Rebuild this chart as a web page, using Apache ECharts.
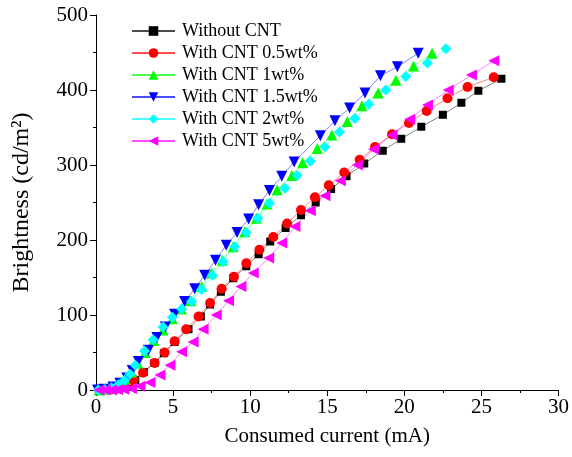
<!DOCTYPE html>
<html>
<head>
<meta charset="utf-8">
<script src="https://cdn.jsdelivr.net/npm/echarts@6/dist/echarts.min.js"></script>
<style>
  html, body { margin: 0; padding: 0; background: #fff; }
  #chart { width: 572px; height: 457px; }
</style>
</head>
<body>
<div id="chart"></div>
<script>
// Brightness vs consumed current for OLEDs with different CNT loadings
const seriesNames = ['Without CNT', 'With CNT 0.5wt%', 'With CNT 1wt%', 'With CNT 1.5wt%', 'With CNT 2wt%', 'With CNT 5wt%'];

const withoutCnt = [[0.2,0],[0.6,0.5],[1.0,1],[1.4,2],[1.75,3],[2.1,5],[2.55,13],[3.1,24],[3.8,36],[4.4,49],[5.1,64],[6.0,81],[6.8,98],[7.4,114],[8.1,131],[8.9,149],[9.75,165],[10.55,181],[11.3,198],[12.3,216],[13.3,233],[14.25,250],[15.25,268],[16.25,285],[17.4,302],[18.6,319],[19.8,335],[21.1,351],[22.5,367],[23.7,383],[24.8,399],[26.3,415]];

const cnt05 = [[0.2,0],[0.6,0.5],[1.0,1],[1.4,2],[1.8,4],[2.1,7],[2.45,14],[3.05,23],[3.8,36],[4.45,50],[5.1,65],[5.85,81],[6.65,98],[7.4,116],[8.15,135],[8.95,151],[9.75,169],[10.6,187],[11.5,204],[12.4,222],[13.3,240],[14.2,257],[15.1,273],[16.1,290],[17.1,307],[18.1,324],[19.2,341],[20.3,356],[21.45,372],[22.8,389],[24.1,404],[25.8,417]];

const cnt1 = [[0.2,0],[0.6,1],[1.05,3],[1.5,8],[1.9,14],[2.3,24],[2.7,36],[3.2,50],[3.75,66],[4.35,80],[4.95,95],[5.55,108],[6.15,119],[6.85,138],[7.5,156],[8.2,173],[8.9,191],[9.65,211],[10.4,229],[11.1,248],[11.75,267],[12.7,286],[13.4,303],[14.35,322],[15.3,340],[16.3,358],[17.25,379],[18.3,396],[19.45,413],[20.6,432],[21.8,449]];

const cnt15 = [[0.1,0],[0.5,1],[1.1,4],[1.55,9],[2.0,16],[2.35,26],[2.75,38],[3.4,53],[3.95,70],[4.5,84],[5.1,101],[5.75,118],[6.4,135],[7.05,153],[7.75,173],[8.45,193],[9.15,210],[9.9,228],[10.55,247],[11.25,266],[12.05,285],[12.85,304],[14.55,339],[15.5,359],[16.45,376],[17.45,396],[18.45,419],[19.55,431],[20.9,449]];

const cnt2 = [[0.15,0],[0.55,1],[1.0,3],[1.45,7],[1.85,13],[2.2,21],[2.55,33],[3.15,52],[3.7,67],[4.35,84],[4.95,97],[5.55,108],[6.2,118],[6.85,134],[7.55,153],[8.25,171],[9.0,191],[9.75,210],[10.5,229],[11.25,249],[12.25,269],[13.05,286],[13.9,305],[14.85,324],[15.8,344],[16.8,362],[17.7,381],[18.8,400],[20.1,418],[21.5,436],[22.7,455]];

const cnt5 = [[0.2,0],[0.6,0],[1.0,0],[1.4,0.5],[1.8,1],[2.3,2],[2.85,5],[3.5,10],[4.15,20],[4.8,33],[5.55,51],[6.3,64],[6.95,81],[7.8,100],[8.6,119],[9.4,138],[10.2,156],[11.2,176],[12.05,196],[12.9,218],[13.9,239],[14.85,259],[15.85,279],[16.95,300],[18.0,321],[19.2,340],[20.35,361],[21.5,380],[22.85,400],[24.35,420],[25.8,439]];

const xTicks = { min: 0, max: 30, interval: 5 };
const yTicks = { min: 0, max: 500, interval: 100 };

const font = 'Liberation Serif, Times New Roman, serif';

function mk(name, data, color, symbol, size, rotate) {
  return {
    name: name,
    type: 'line',
    data: data,
    symbol: symbol,
    symbolSize: size,
    symbolRotate: rotate || 0,
    showAllSymbol: true,
    itemStyle: { color: color },
    lineStyle: { color: color, width: 0.7, opacity: 0.7 },
    emphasis: { disabled: true },
    animation: false
  };
}

const chart = echarts.init(document.getElementById('chart'));
chart.setOption({
  backgroundColor: '#fff',
  animation: false,
  grid: { left: 96, right: 13, top: 15, bottom: 67 },
  legend: {
    orient: 'vertical',
    left: 126,
    top: 17,
    itemWidth: 43,
    itemHeight: 12,
    itemGap: 4,
    textStyle: { fontFamily: font, fontSize: 18, lineHeight: 18, color: '#000', padding: [0, 0, 0, 2] },
    data: seriesNames
  },
  xAxis: {
    type: 'value',
    min: xTicks.min, max: xTicks.max, interval: xTicks.interval,
    name: 'Consumed current (mA)',
    nameLocation: 'middle',
    nameGap: 36,
    nameTextStyle: { fontFamily: font, fontSize: 21, color: '#000' },
    axisLine: { show: true, lineStyle: { color: '#000', width: 1 } },
    axisTick: { show: true, length: 6, inside: false, lineStyle: { color: '#000' } },
    minorTick: { show: true, splitNumber: 2, length: 3, lineStyle: { color: '#000' } },
    axisLabel: { fontFamily: font, fontSize: 21, color: '#000', margin: 7 },
    splitLine: { show: false }
  },
  yAxis: {
    type: 'value',
    min: yTicks.min, max: yTicks.max, interval: yTicks.interval,
    name: 'Brightness (cd/m\u00B2)',
    nameLocation: 'middle',
    nameGap: 62,
    nameRotate: 90,
    nameTextStyle: { fontFamily: font, fontSize: 24, color: '#000' },
    axisLine: { show: true, lineStyle: { color: '#000', width: 1 } },
    axisTick: { show: true, length: 6, inside: false, lineStyle: { color: '#000' } },
    minorTick: { show: true, splitNumber: 2, length: 3, lineStyle: { color: '#000' } },
    axisLabel: { fontFamily: font, fontSize: 21, color: '#000', margin: 8 },
    splitLine: { show: false }
  },
  series: [
    mk(seriesNames[0], withoutCnt, '#000000', 'rect', 8),
    mk(seriesNames[1], cnt05, '#ff0000', 'circle', 10),
    mk(seriesNames[2], cnt1, '#00ff00', 'triangle', 11),
    mk(seriesNames[3], cnt15, '#0000ff', 'triangle', 11, 180),
    mk(seriesNames[4], cnt2, '#00ffff', 'diamond', 11),
    mk(seriesNames[5], cnt5, '#ff00ff', 'triangle', 11, 90)
  ]
});
</script>
</body>
</html>
